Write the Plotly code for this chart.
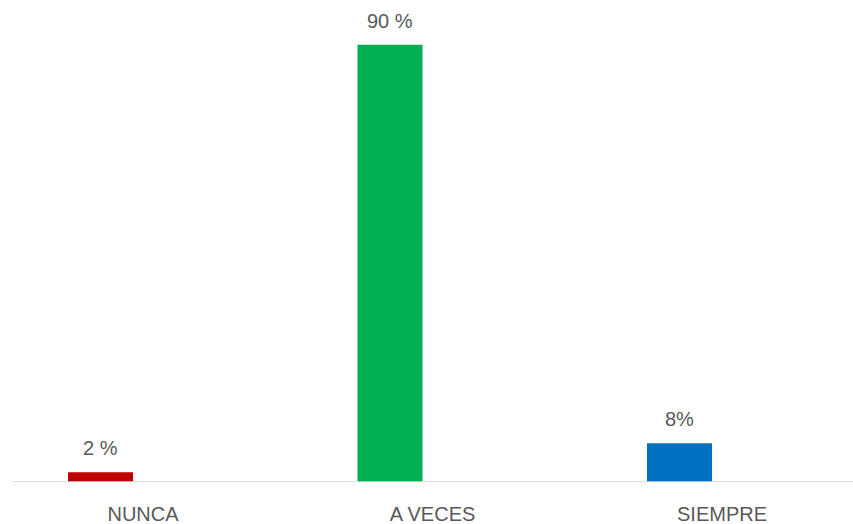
import plotly.graph_objects as go

categories = ["NUNCA", "A VECES", "SIEMPRE"]
values = [2, 90, 8]
value_labels = ["2 %", "90 %", "8%"]
colors = ["#C00000", "#00B050", "#0070C0"]

fig = go.Figure()
fig.add_trace(go.Bar(
    x=categories, y=values,
    marker=dict(color=colors, line=dict(width=0)),
    width=0.2245, offset=-0.259,
    hoverinfo="skip",
))

for c, v, t in zip(categories, values, value_labels):
    fig.add_annotation(x=c, y=v, text=t, showarrow=False, xref="x", yref="y",
                       yanchor="bottom", xshift=-42.5, yshift=11,
                       font=dict(family="Liberation Sans", size=20, color="#595959"))

fig.add_shape(type="line", xref="paper", yref="y", x0=12/853, x1=1, y0=0, y1=0,
              line=dict(color="#D9D9D9", width=1.3))

fig.update_layout(
    width=853, height=524,
    margin=dict(l=0, r=0, t=20, b=42),
    plot_bgcolor="white", paper_bgcolor="white",
    showlegend=False,
    xaxis=dict(type="category", range=[-0.494, 2.4525], showgrid=False, showline=False,
               zeroline=False, ticks="outside", ticklen=14, tickcolor="rgba(0,0,0,0)",
               tickfont=dict(family="Liberation Sans", size=20, color="#595959")),
    yaxis=dict(range=[0, 95.1], visible=False, showgrid=False, zeroline=False),
)

fig.write_html("out.html", config={"displayModeBar": False},
               post_script="document.body.style.margin='0';document.body.style.padding='0';")
